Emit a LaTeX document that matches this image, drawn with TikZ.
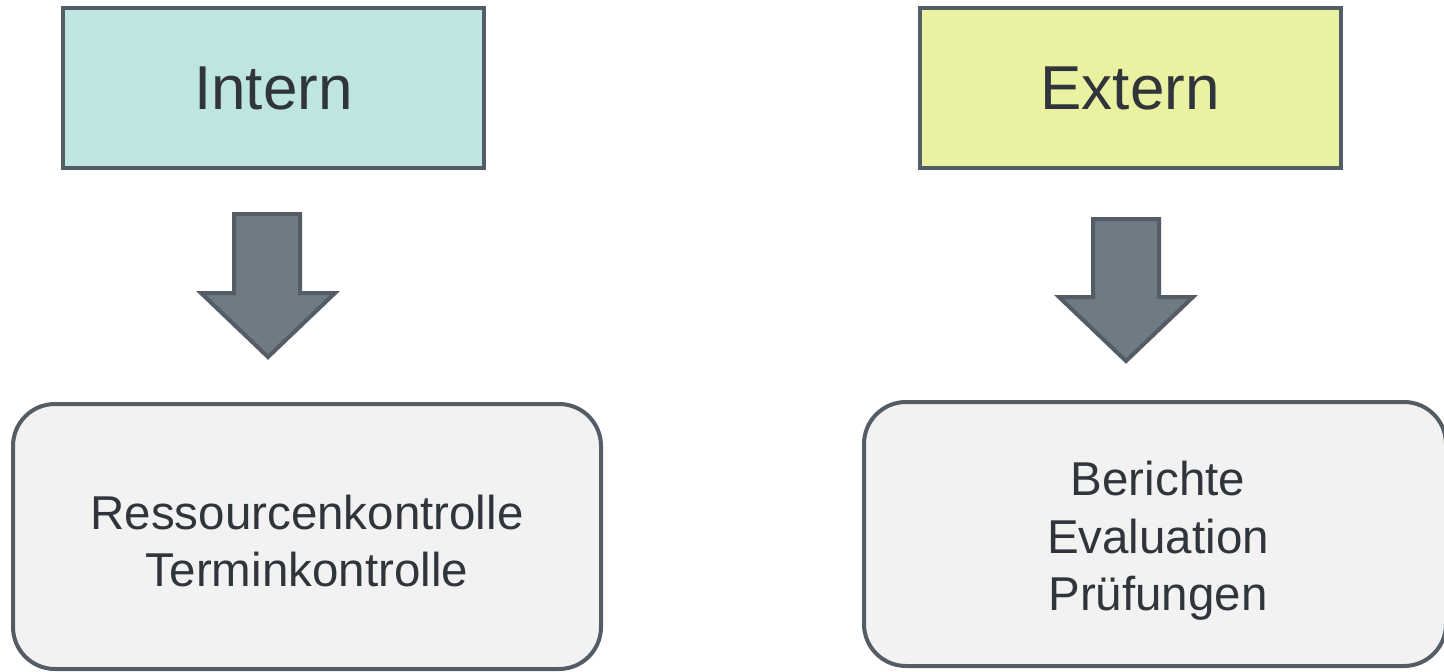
\documentclass[tikz,border=0pt]{standalone}
\usepackage{fontspec}
\setmainfont{Liberation Sans}
\definecolor{edgec}{HTML}{545C65}
\definecolor{tealc}{HTML}{BFE5E2}
\definecolor{limec}{HTML}{EAF2A2}
\definecolor{greyc}{HTML}{F2F2F2}
\definecolor{arrowc}{HTML}{6F7B84}
\definecolor{textc}{HTML}{30343B}
\tikzset{
  headbox/.style={draw=edgec, line width=4pt, minimum width=421pt, minimum height=160pt, inner sep=0pt, text=textc, font=\fontsize{62}{70}\selectfont},
  listbox/.style={draw=edgec, line width=4pt, rounded corners=42pt, fill=greyc, inner sep=0pt},
  listtext/.style={text=textc, align=center, inner sep=0pt, font=\fontsize{47.5}{57.5}\selectfont},
  bigarrow/.style={draw=edgec, line width=4pt, fill=arrowc, line join=miter}
}
\begin{document}
\begin{tikzpicture}[x=1pt,y=-1pt]
\useasboundingbox (0,0) rectangle (1444,672);
\node[headbox, fill=tealc] (intern) at (273.5,88) {Intern};
\node[headbox, fill=limec] (extern) at (1130,88) {Extern};
\node[listbox, minimum width=588pt, minimum height=265pt] (ressource) at (307,536.5) {};
\node[listtext] (ressourcetext) at (307,541) {Ressourcenkontrolle\\Terminkontrolle};
\node[listbox, minimum width=582pt, minimum height=264pt] (bericht) at (1155,534) {};
\node[listtext] (berichttext) at (1158,541) {Berichte\\Evaluation\\Prüfungen};
% arrows
\draw[bigarrow] (234,214) -- (300,214) -- (300,293) -- (335,293) -- (268,357) -- (201,293) -- (234,293) -- cycle;
\draw[bigarrow] (1093,219) -- (1159,219) -- (1159,297) -- (1193,297) -- (1126,361) -- (1059,297) -- (1093,297) -- cycle;
\end{tikzpicture}
\end{document}
